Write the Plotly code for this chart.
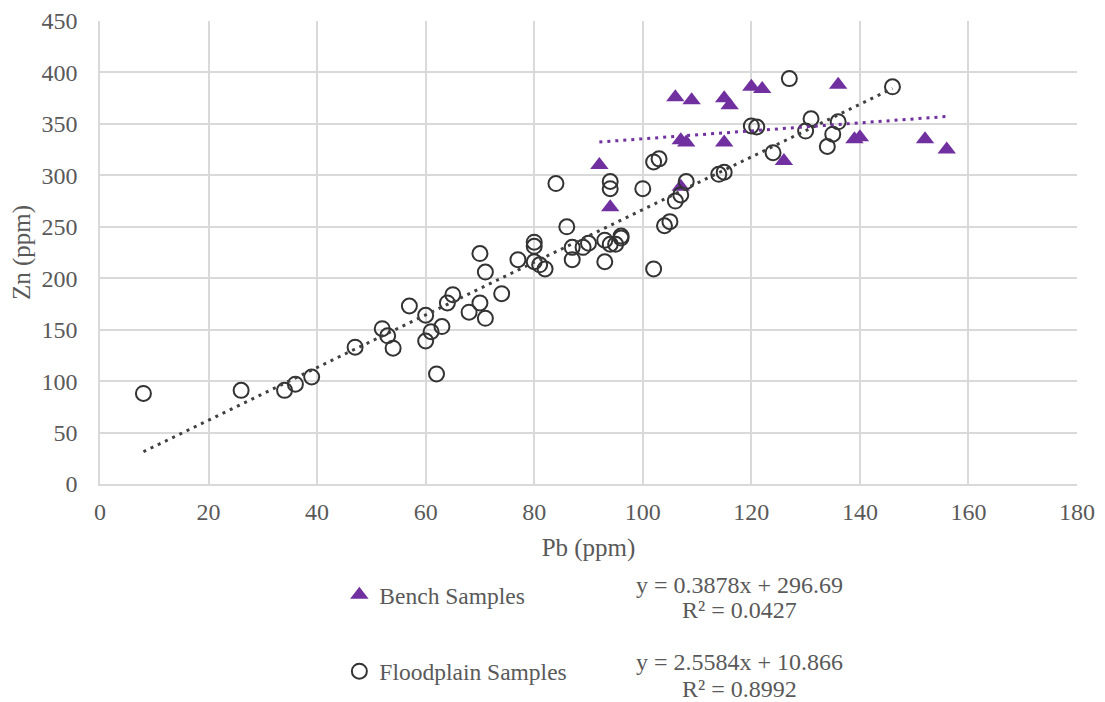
import plotly.graph_objects as go

# Bench samples (Pb, Zn in ppm)
bench_pb = [92, 94, 106, 109, 107, 108, 107, 115, 116, 115, 120, 122, 126, 136, 139, 140, 152, 156]
bench_zn = [310, 269, 376, 373, 334, 332, 289, 375, 368, 332, 386, 384, 314, 388, 335, 337, 335, 325]

# Floodplain samples (Pb, Zn in ppm)
flood_pb = [8, 26, 34, 36, 39, 47, 52, 53, 54, 57, 60, 61, 60, 62, 63, 64, 65, 68, 70, 71,
            70, 71, 74, 77, 80, 81, 82, 87, 80, 80, 84, 86, 87, 89, 90, 93, 93, 94, 95, 96,
            96, 94, 94, 100, 102, 102, 103, 104, 105, 106, 107, 108, 114, 115, 120, 121, 124,
            127, 130, 131, 134, 135, 136, 146]
flood_zn = [88, 91, 91, 97, 104, 133, 151, 144, 132, 173, 164, 148, 139, 107, 153, 176, 184, 167, 176, 161,
            224, 206, 185, 218, 216, 213, 209, 218, 235, 231, 292, 250, 230, 230, 234, 237, 216, 233, 233, 241,
            239, 294, 287, 287, 209, 313, 316, 251, 255, 275, 281, 294, 301, 303, 348, 347, 322,
            394, 343, 355, 328, 340, 352, 386]

# Linear trendlines as printed on the chart
bench_fit = (0.3878, 296.69, 0.0427)
flood_fit = (2.5584, 10.866, 0.8992)

PURPLE = "#7030A0"
DARK = "#333333"
GRID = "#D9D9D9"
SERIF = "Liberation Serif"
FONT = dict(family=SERIF, color="#595959", size=24)


def trend(xs, fit):
    x0, x1 = min(xs), max(xs)
    return [x0, x1], [fit[0] * x0 + fit[1], fit[0] * x1 + fit[1]]


fig = go.Figure()

fig.add_trace(go.Scatter(
    x=bench_pb, y=bench_zn, mode="markers", name="Bench Samples", legendgroup="b",
    marker=dict(symbol="triangle-up", size=16, color=PURPLE, line=dict(width=0)),
))
fig.add_trace(go.Scatter(
    x=flood_pb, y=flood_zn, mode="markers", name="Floodplain Samples", legendgroup="f",
    marker=dict(symbol="circle-open", size=15, color=DARK, line=dict(width=2, color=DARK)),
))

tx, ty = trend(flood_pb, flood_fit)
fig.add_trace(go.Scatter(x=tx, y=ty, mode="lines", showlegend=False,
                         line=dict(color="#404040", width=3, dash="3px,5px")))
tx, ty = trend(bench_pb, bench_fit)
fig.add_trace(go.Scatter(x=tx, y=ty, mode="lines", showlegend=False,
                         line=dict(color=PURPLE, width=3, dash="3px,5px")))

# equation labels, one annotation per line to keep Excel's tight line spacing
for fit, (y1, y2) in [(bench_fit, (-0.2186, -0.2729)), (flood_fit, (-0.3855, -0.4419))]:
    for txt, yy in [(f"y = {fit[0]}x + {fit[1]}", y1), (f"R² = {fit[2]}", y2)]:
        fig.add_annotation(
            text=txt, xref="paper", yref="paper", x=0.655, y=yy,
            xanchor="center", yanchor="middle", showarrow=False,
            font=dict(FONT, size=24),
        )

fig.update_layout(
    width=1105, height=702,
    paper_bgcolor="white", plot_bgcolor="white",
    font=FONT,
    margin=dict(l=92, r=36, t=13, b=226, autoexpand=False),
    showlegend=True,
    legend=dict(x=0.245, y=-0.192, xanchor="left", yanchor="top",
                font=dict(FONT, size=23.5), tracegroupgap=43, bgcolor="rgba(0,0,0,0)"),
    xaxis=dict(
        range=[0, 180], dtick=20, showgrid=True, gridcolor=GRID, gridwidth=1.5,
        showline=True, linecolor=GRID, linewidth=1.5, zeroline=False, ticks="",
        ticklabelstandoff=5, automargin=False, ticklabeloverflow="allow",
        title=dict(text="Pb (ppm)", font=dict(FONT, size=25), standoff=15),
    ),
    yaxis=dict(
        range=[0, 450], dtick=50, showgrid=True, gridcolor=GRID, gridwidth=1.5,
        showline=True, linecolor=GRID, linewidth=1.5, zeroline=False, ticks="",
        ticklabelstandoff=16, automargin=False, ticklabeloverflow="allow",
        title=dict(text="Zn (ppm)", font=dict(FONT, size=25), standoff=16),
    ),
)

fig.write_html("out.html")
